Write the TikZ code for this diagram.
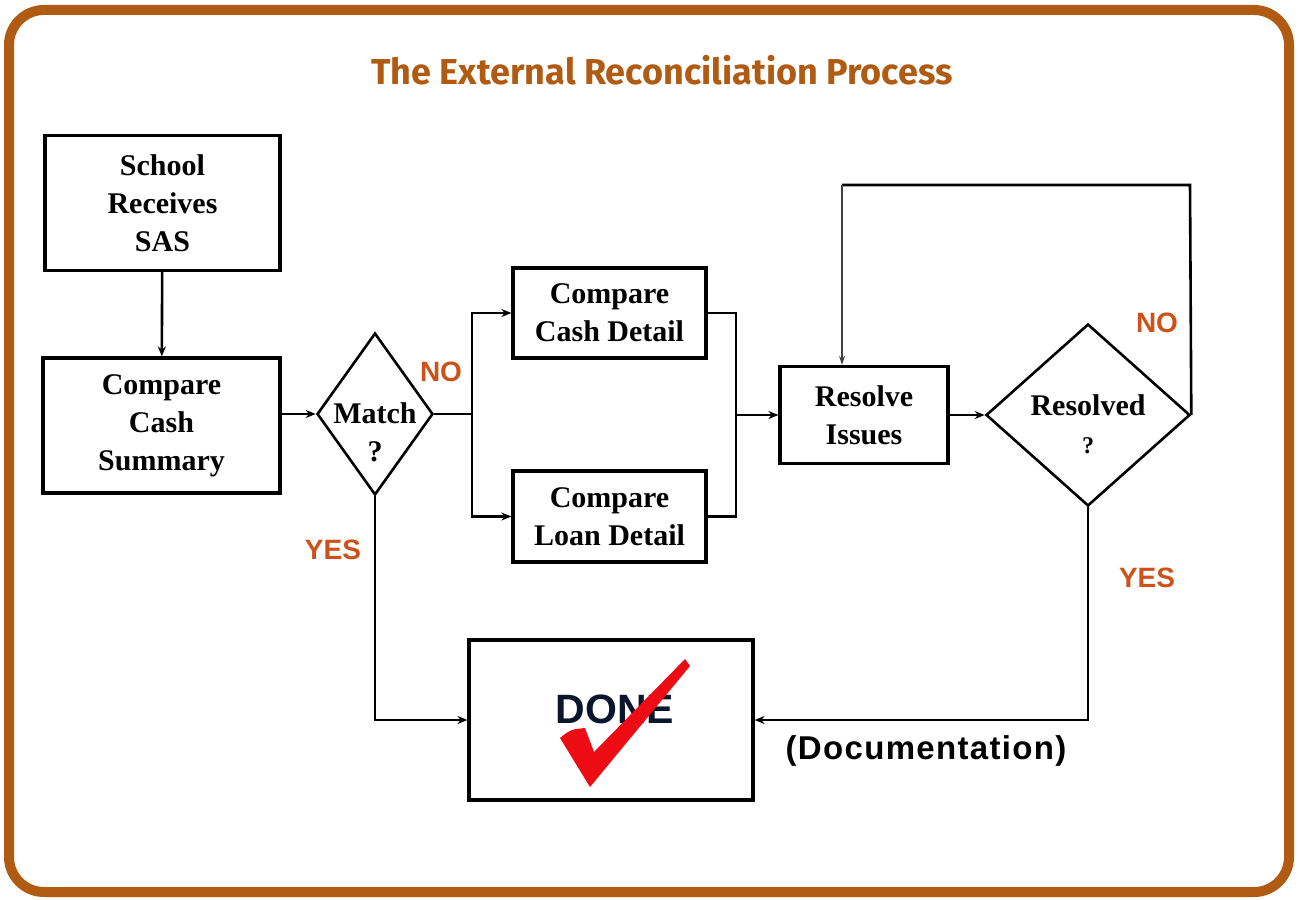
\documentclass[tikz,border=0pt]{standalone}
\usepackage{fontspec}
\setmainfont{Liberation Serif}
\newfontfamily\titlefont{Fira Sans}
\newfontfamily\arialfont{Liberation Sans}
\newfontfamily\docfont[LetterSpace=4]{Liberation Sans}
\usetikzlibrary{shapes.geometric,arrows.meta}
\definecolor{framec}{RGB}{176,90,18}
\definecolor{labc}{RGB}{204,82,26}
\definecolor{navyc}{RGB}{10,22,45}
\definecolor{chkc}{RGB}{238,12,20}
\begin{document}
\begin{tikzpicture}[x=1pt,y=-1pt,
  box/.style={draw=black,line width=3.2pt,fill=white,inner sep=0pt,align=center,
    font=\fontsize{30}{38}\selectfont\bfseries},
  dia/.style={draw=black,line width=2.6pt,diamond,inner sep=0pt,fill=white},
  txt/.style={align=center,inner sep=0pt,font=\fontsize{30}{38}\selectfont\bfseries},
  lbl/.style={text=labc,inner sep=0pt,font=\arialfont\fontsize{28}{30}\selectfont\bfseries},
  conn/.style={line width=2.6pt,draw=black},
  arr/.style={conn,-{Stealth[length=10pt,width=8pt]}},
  thinarr/.style={line width=1.2pt,draw=black!75,-{Stealth[length=9pt,width=6pt]}},
]
\useasboundingbox (0,0) rectangle (1300,899);
\draw[framec,line width=10pt,rounded corners=35pt] (9,10) rectangle (1289,892);
\node[text=framec,font=\titlefont\fontsize{36}{40}\selectfont\bfseries] (title) at (662,70) {The External Reconciliation Process};

% boxes
\node[box,minimum width=235,minimum height=135] (school) at (162.5,203) {School\\Receives\\SAS};
\node[box,minimum width=237,minimum height=135] (summary) at (161.5,425.5) {Compare\\Cash\\Summary};
\node[dia,minimum width=116,minimum height=162] (match) at (375,414) {};
\node[txt] (matchtxt) at (375,432) {Match\\?};
\node[box,minimum width=193,minimum height=90] (cashdet) at (609.5,313) {Compare\\Cash Detail};
\node[box,minimum width=193,minimum height=91] (loandet) at (609.5,516.5) {Compare\\Loan Detail};
\node[box,minimum width=168,minimum height=97] (resolve) at (864,415) {Resolve\\Issues};
\node[dia,minimum width=204,minimum height=182] (resolved) at (1088,415) {};
\node[txt] (resolvedtxt) at (1088,424) {Resolved\\{\fontsize{24}{30}\selectfont ?}};
\node[draw=black,line width=3.2pt,fill=white,minimum width=284,minimum height=160] (done) at (611,720) {};

% connectors
\draw[arr] (school) -- (summary);
\draw[arr] (summary.east |- match.west) -- (match.west);
\coordinate (split) at (472,414);
\draw[arr] (match.east) -- (split) |- (cashdet.west);
\draw[arr] (split) |- (loandet.west);
\coordinate (merge) at (736,415);
\draw[conn] (cashdet.east) -| (merge) |- (loandet.east);
\draw[arr] (merge) -- (resolve.west);
\draw[arr] (resolve.east) -- (resolved.west);
\coordinate (loopR) at (1190,185);
\coordinate (loopL) at (842,185);
\draw[conn] (resolved.east) -- (loopR) -- (loopL);
\draw[thinarr] (loopL) -- (loopL |- resolve.north);
\draw[arr] (match.south) |- (done.west);
\draw[arr] (resolved.south) |- (done.east);

% labels
\node[lbl] (no1) at (441,372) {NO};
\node[lbl] (no2) at (1157,323) {NO};
\node[lbl] (yes1) at (333,550) {YES};
\node[lbl] (yes2) at (1147,578) {YES};
\node[inner sep=0pt,font=\docfont\fontsize{33}{36}\selectfont\bfseries] (doc) at (926,751) {(Documentation)};

% DONE
\node[text=navyc,inner sep=0pt,font=\arialfont\fontsize{41}{44}\selectfont\bfseries] (donetxt) at (615,709) {DONE};
\fill[chkc] (560,738) .. controls (566,733) and (570,730) .. (576,729) -- (585,728) -- (594,752) -- (685,659) -- (690,666) -- (590,787) -- cycle;
\end{tikzpicture}
\end{document}
